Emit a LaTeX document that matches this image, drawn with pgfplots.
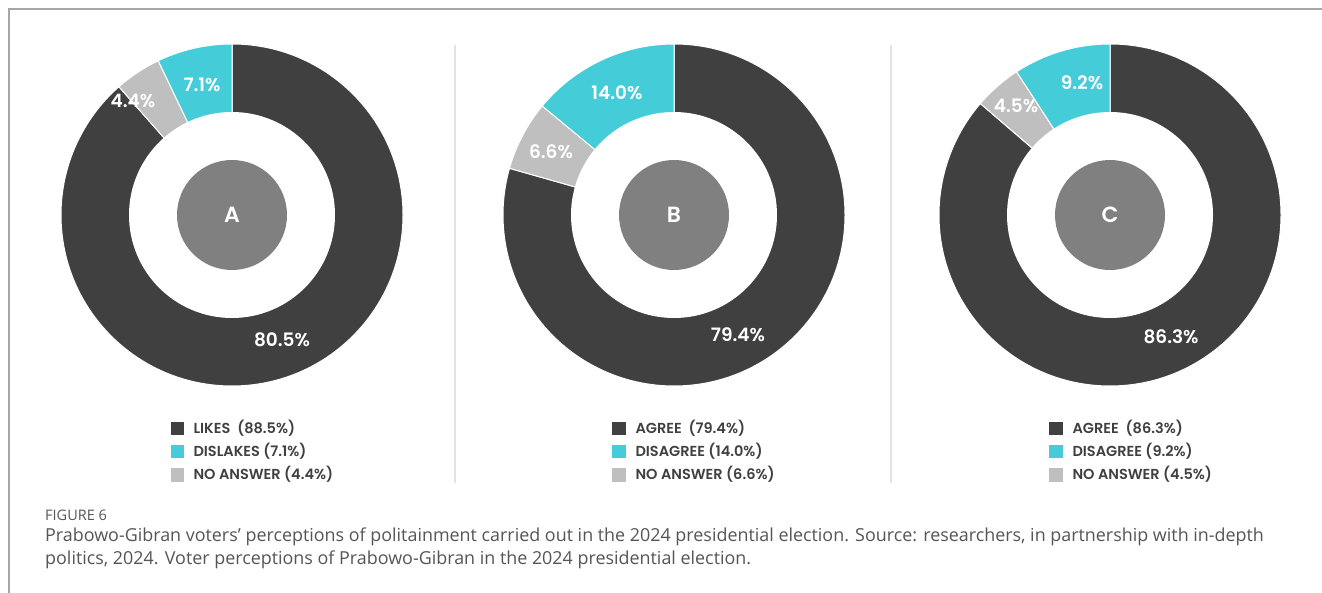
\documentclass[border=0pt]{standalone}
\usepackage{pgfplots}
\pgfplotsset{compat=1.18}
\usepackage{fontspec}
\setmainfont{Poppins}
\newfontfamily\semib{Poppins SemiBold}
\newfontfamily\capfont{Open Sans}
\definecolor{dk}{HTML}{404040}
\definecolor{cy}{HTML}{45CCD9}
\definecolor{lg}{HTML}{BFBFBF}
\definecolor{mg}{HTML}{808080}
\definecolor{frame}{HTML}{A6A6A6}
\definecolor{sep}{HTML}{E3E3E3}
\definecolor{captxt}{HTML}{555555}
% donut: cx, cy, dark %, gray %, letter
\newcommand{\donut}[5]{%
  \fill[dk,draw=white,line width=1pt] (axis cs:#1,#2) -- +(90:171pt) arc[start angle=90, end angle={90-3.6*#3}, radius=171pt] -- cycle;
  \fill[lg,draw=white,line width=1pt] (axis cs:#1,#2) -- +({90-3.6*#3}:171pt) arc[start angle={90-3.6*#3}, end angle={90-3.6*(#3+#4)}, radius=171pt] -- cycle;
  \fill[cy,draw=white,line width=1pt] (axis cs:#1,#2) -- +({90-3.6*(#3+#4)}:171pt) arc[start angle={90-3.6*(#3+#4)}, end angle=-270, radius=171pt] -- cycle;
  \fill[white] (axis cs:#1,#2) circle[radius=103pt];
  \fill[mg] (axis cs:#1,#2) circle[radius=55pt];
  \node[text=white,font=\semib\fontsize{22}{24}\selectfont] at (axis cs:#1,#2) {#5};
}
\begin{document}
\begin{tikzpicture}[
  lbl/.style={text=white,font=\semib\fontsize{18.5}{20}\selectfont},
  leg/.style={anchor=west,text=dk,font=\semib\fontsize{14.5}{16}\selectfont},
]
\begin{axis}[
  scale only axis, width=1322pt, height=593pt,
  xmin=0, xmax=1322, ymin=0, ymax=593, y dir=reverse,
  hide axis, clip=false,
]
\coordinate (ll) at (axis cs:0,593);
\coordinate (ur) at (axis cs:1322,0);
% frame
\draw[frame,line width=1.5pt] (axis cs:9,593) -- (axis cs:9,9) -- (axis cs:1322,9);
% separators
\draw[sep,line width=2pt] (axis cs:455,45) -- (axis cs:455,483);
\draw[sep,line width=2pt] (axis cs:891,45) -- (axis cs:891,483);
% donuts (dark, no answer, remainder = cyan)
\donut{232}{215}{88.5}{4.4}{A}
\donut{674}{215}{79.4}{6.6}{B}
\donut{1110}{215}{86.3}{4.5}{C}
% slice labels
\node[lbl] at (axis cs:202,85) {7.1\%};
\node[lbl] at (axis cs:133,101) {4.4\%};
\node[lbl] at (axis cs:282,340) {80.5\%};
\node[lbl] at (axis cs:617,93) {14.0\%};
\node[lbl] at (axis cs:551,152) {6.6\%};
\node[lbl] at (axis cs:738,335) {79.4\%};
\node[lbl] at (axis cs:1082,83) {9.2\%};
\node[lbl] at (axis cs:1016,106) {4.5\%};
\node[lbl] at (axis cs:1171,337) {86.3\%};
% legend squares
\addplot[only marks, mark=square*, mark size=6.3pt, color=dk] coordinates {(177,428) (618.5,428) (1055.5,428)};
\addplot[only marks, mark=square*, mark size=6.3pt, color=cy] coordinates {(177,451) (618.5,451) (1055.5,451)};
\addplot[only marks, mark=square*, mark size=6.3pt, color=lg] coordinates {(177,474.5) (618.5,474.5) (1055.5,474.5)};
% legend text
\node[leg] at (axis cs:190,428) {LIKES\ \ (88.5\%)};
\node[leg] at (axis cs:190,451) {DISLAKES (7.1\%)};
\node[leg] at (axis cs:190,474.5) {NO ANSWER (4.4\%)};
\node[leg] at (axis cs:632,428) {AGREE\ \ (79.4\%)};
\node[leg] at (axis cs:632,451) {DISAGREE (14.0\%)};
\node[leg] at (axis cs:632,474.5) {NO ANSWER (6.6\%)};
\node[leg] at (axis cs:1069,428) {AGREE\ \ (86.3\%)};
\node[leg] at (axis cs:1069,451) {DISAGREE (9.2\%)};
\node[leg] at (axis cs:1069,474.5) {NO ANSWER (4.5\%)};
% caption
\node[anchor=west,text=captxt,font=\capfont\fontsize{14.5}{16}\selectfont,inner sep=0pt] at (axis cs:45,515) {FIGURE 6};
\node[anchor=west,text=captxt,font=\capfont\fontsize{17.9}{20}\selectfont,inner sep=0pt] at (axis cs:45,537) {Prabowo-Gibran voters’ perceptions of politainment carried out in the 2024 presidential election. Source: researchers, in partnership with in-depth};
\node[anchor=west,text=captxt,font=\capfont\fontsize{17.9}{20}\selectfont,inner sep=0pt] at (axis cs:45,560) {politics, 2024. Voter perceptions of Prabowo-Gibran in the 2024 presidential election.};
\end{axis}
\pgfresetboundingbox
\path[use as bounding box] (ll) rectangle (ur);
\end{tikzpicture}
\end{document}
